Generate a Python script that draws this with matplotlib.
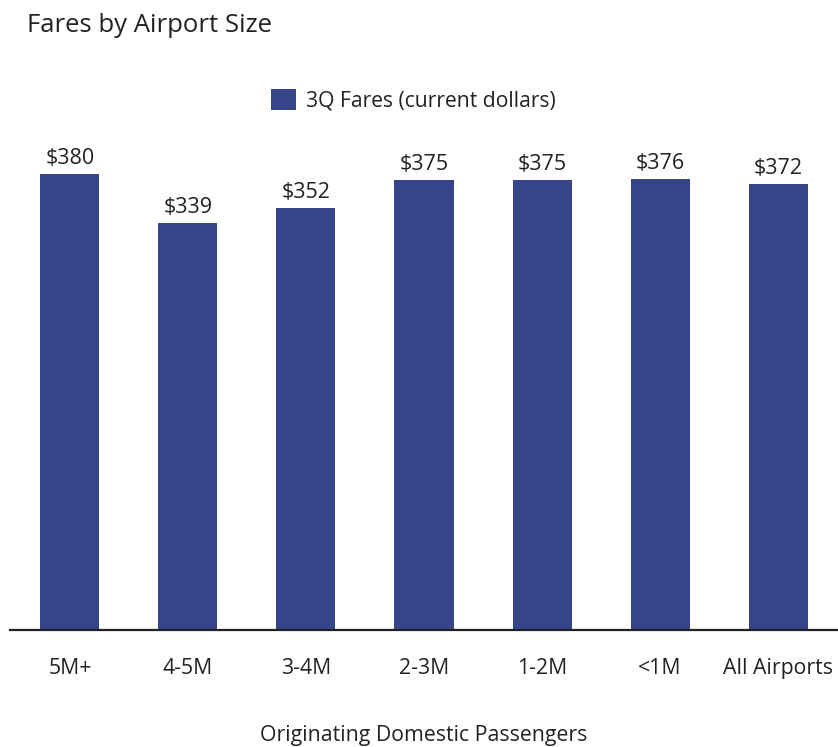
import matplotlib.pyplot as plt

plt.rcParams['font.family'] = ['Open Sans', 'DejaVu Sans']

# ======================
# DATA
# ======================
categories = ['5M+', '4-5M', '3-4M', '2-3M', '1-2M', '<1M', 'All Airports']
fares = [380, 339, 352, 375, 375, 376, 372]
bar_color = '#36458A'

# ======================
# PLOT
# ======================
fig = plt.figure(figsize=(8.38, 7.47), dpi=100)
ax = fig.add_axes([10 / 838, (747 - 630) / 747, 828 / 838, 480 / 747])

bars = ax.bar(range(len(categories)), fares, width=0.5, color=bar_color,
              label='3Q Fares (current dollars)')

for b, v in zip(bars, fares):
    ax.text(b.get_x() + b.get_width() / 2, v + 4, f'${v}',
            ha='center', va='bottom', fontsize=15.5, color='#222222')

ax.set_xlim(-0.508, 6.508)
ax.set_ylim(0, 400)
ax.set_xticks(range(len(categories)))
ax.set_xticklabels(categories, fontsize=15.3, color='#222222')
ax.tick_params(axis='x', length=0, pad=20)
ax.set_yticks([])

for s in ['top', 'right', 'left']:
    ax.spines[s].set_visible(False)
ax.spines['bottom'].set_linewidth(1.6)
ax.spines['bottom'].set_color('#222222')

ax.set_xlabel('Originating Domestic Passengers', fontsize=15.3,
              color='#222222', labelpad=33)

fig.text(27 / 838, 1 - 25 / 747, 'Fares by Airport Size', fontsize=18.5,
         color='#222222', va='center', ha='left')

fig.legend(loc='center', bbox_to_anchor=(413 / 838, 1 - 100 / 747),
           frameon=False, fontsize=15.2, handlelength=1.2, handleheight=1.2,
           handletextpad=0.45, labelcolor='#222222')

plt.savefig('out.png', dpi=100)
